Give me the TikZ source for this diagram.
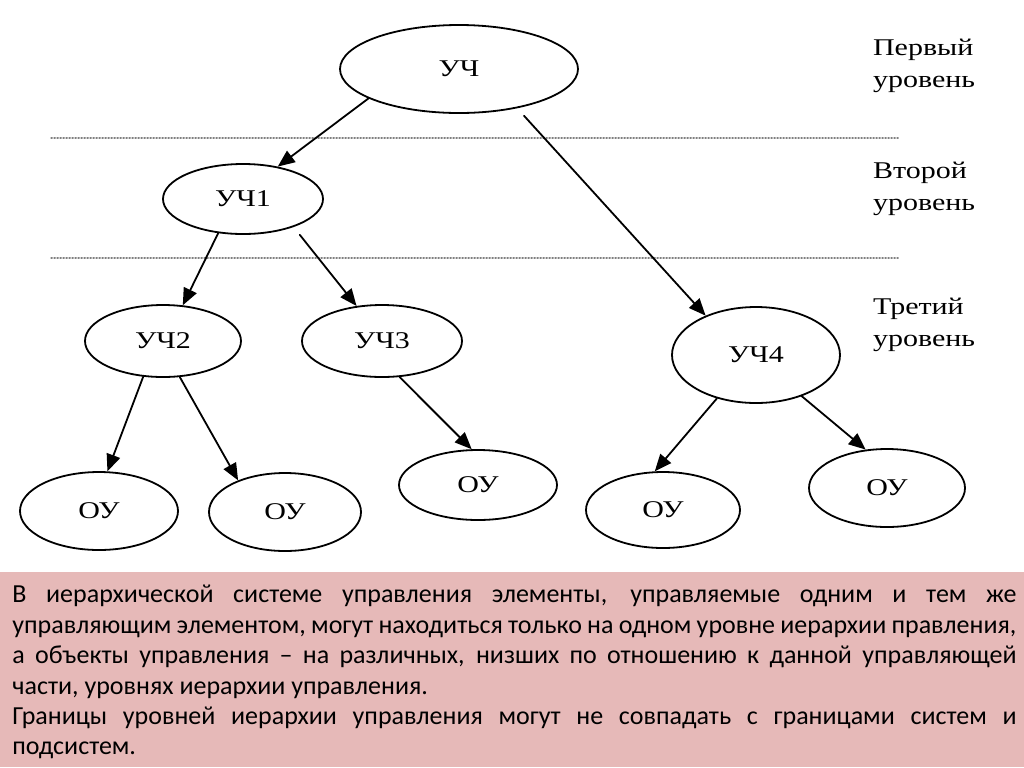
\documentclass[tikz,border=0pt]{standalone}
\usepackage{fontspec}
\setmainfont{Liberation Serif}
\newfontfamily\diagfont[FakeStretch=1.25]{Liberation Serif}
\newfontfamily\notefont{Carlito}
\usetikzlibrary{arrows.meta,shapes.geometric}
\definecolor{notepink}{HTML}{E6B9B8}

\begin{document}
\begin{tikzpicture}[x=0.5pt,y=-0.5pt,line cap=round,line join=round,>={Triangle[length=8.5pt,width=7pt]},
  part/.style={draw,ellipse,line width=0.9pt,inner sep=0pt,font=\diagfont\fontsize{12}{14}\selectfont},
  link/.style={->,line width=0.9pt},
  level/.style={anchor=west,align=left,font=\diagfont\fontsize{12}{16}\selectfont},
  border/.style={gray,line width=0.6pt,dash pattern=on 0.6pt off 0.9pt}]
\useasboundingbox (0,0) rectangle (1024,767);
\draw [border] (51,138) -- (899,138);
\draw [border] (51,258) -- (899,258);
\node [part,minimum width=119pt,minimum height=44pt] (uc) at (459,69) {УЧ};
\node [part,minimum width=80pt,minimum height=35pt] (uc1) at (243,199) {УЧ1};
\node [part,minimum width=78pt,minimum height=36pt] (uc2) at (163,341) {УЧ2};
\node [part,minimum width=80pt,minimum height=36pt] (uc3) at (382,341) {УЧ3};
\node [part,minimum width=84pt,minimum height=48pt] (uc4) at (756,355) {УЧ4};
\node [part,minimum width=79pt,minimum height=39pt] (ou1) at (99,511) {ОУ};
\node [part,minimum width=76pt,minimum height=39pt] (ou2) at (285,512) {ОУ};
\node [part,minimum width=79pt,minimum height=35pt] (ou3) at (478,485) {ОУ};
\node [part,minimum width=77pt,minimum height=38pt] (ou4) at (663,510) {ОУ};
\node [part,minimum width=78pt,minimum height=39pt] (ou5) at (887,488) {ОУ};
\node [level] (lev1) at (866,66) {Первый\\уровень};
\node [level] (lev2) at (866,189) {Второй\\уровень};
\node [level] (lev3) at (866,325) {Третий\\уровень};
\draw [link] (uc.198) -- (uc1.43);
\draw [link,shorten <=5pt] (uc.326) -- (uc4.142);
\draw [link] (uc1.234) -- (uc2.61);
\draw [link,shorten <=5pt] (uc1.331) -- (uc3.126);
\draw [link] (uc2.241) -- (ou1.78);
\draw [link] (uc2.295) -- (ou2.146);
\draw [link] (uc3.296) -- (ou3.100);
\draw [link] (uc4.228) -- (ou4.102);
\draw [link] (uc4.318) -- (ou5.119);
\fill [notepink] (0,572) rectangle (1024,767);
\node [anchor=north west,inner sep=0pt,text width=502pt,align=justify,font=\notefont\fontsize{13}{15.2}\selectfont] (note) at (12,585)
{В иерархической системе управления элементы, управляемые одним и тем же управляющим элементом, могут находиться только на одном уровне иерархии правления, а объекты управления – на различных, низших по отношению к данной управляющей части, уровнях иерархии управления.\\
Границы уровней иерархии управления могут не совпадать с границами систем и подсистем.};
\end{tikzpicture}
\end{document}
